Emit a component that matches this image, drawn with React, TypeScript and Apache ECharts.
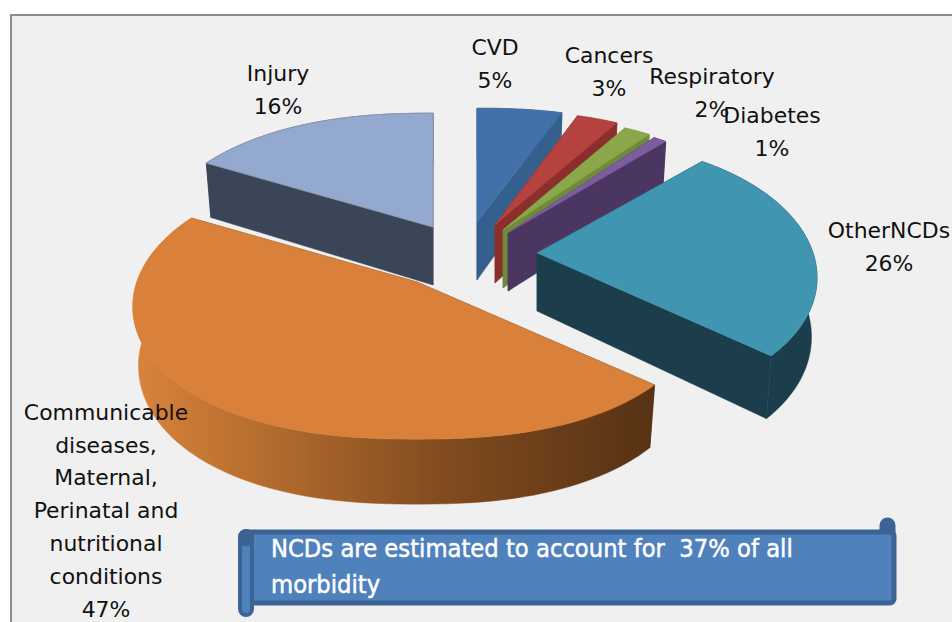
import React, { useEffect, useRef } from "react";
import * as echarts from "echarts";

const categories = [
  "CVD",
  "Cancers",
  "Respiratory",
  "Diabetes",
  "OtherNCDs",
  "Communicable\ndiseases,\nMaternal,\nPerinatal and\nnutritional\nconditions",
  "Injury",
];
// Estimated from the slice boundaries; each rounds to the printed percentage
const shares = [5, 3, 2, 1, 26, 46.6, 16.4];
const calloutLines = ["NCDs are estimated to account for  37% of all", "morbidity"];

// Exploded pie layout, one entry per category
const apexX = [477, 495, 503, 508, 537, 417, 433];
const apexY = [222, 225, 230, 233, 253, 282, 227];
const radiusScale = [1, 0.97, 0.97, 0.97, 1.015, 1.03, 1.035];
const topColors = ["#4171a8", "#b5423f", "#8aa84a", "#7b5da0", "#4095b0", "#d9813a", "#93a9cf"];
const wallColors = ["#355f8c", "#8a2f2c", "#6f8a3b", "#4a3660", "#1c3e4c", "#5a3414", "#3b4558"];
const labelX = [495, 609, 712, 772, 889, 106, 278];
const labelY = [64, 72, 93, 132, 247, 511, 90];
const paintOrder = [0, 1, 2, 3, 6, 4, 5];

const RX = 272;
const RY = 135.5;
const PERSPECTIVE = 0.16;
const ROUNDNESS = 0.85;
const DEPTH = 58;
const LABEL_FONT = '20.5px "DejaVu Sans"';

const total = shares.reduce((a, b) => a + b, 0);
const starts = shares.map((_, i) => shares.slice(0, i).reduce((a, b) => a + b, 0));

function planar(t: number) {
  const sin = Math.sin(t);
  const X = Math.sign(sin) * Math.pow(Math.abs(sin), ROUNDNESS);
  const Y = -Math.cos(t);
  return { X, Y, s: 1 + PERSPECTIVE * Y };
}
function rimTop(i: number, t: number) {
  const { X, Y, s } = planar(t);
  return [apexX[i] + RX * radiusScale[i] * X * s, apexY[i] + RY * Y * s];
}
function rimBottom(i: number, t: number) {
  const { X, Y, s } = planar(t);
  return [
    apexX[i] + RX * radiusScale[i] * 0.98 * X * s,
    apexY[i] + RY * Y * s + DEPTH * (1 + 0.12 * Y),
  ];
}

const renderSlice = (_params: any, api: any) => {
  const value = api.value(0);
  const i = api.value(1);
  const a0 = (starts[i] / total) * Math.PI * 2;
  const a1 = a0 + (value / total) * Math.PI * 2;
  const steps = Math.max(6, Math.round(value * 2));
  const ts: number[] = [];
  for (let k = 0; k <= steps; k++) ts.push(a0 + ((a1 - a0) * k) / steps);
  const apexTop = [apexX[i], apexY[i]];
  const apexBot = [apexX[i], apexY[i] + DEPTH];
  const topRim = ts.map((t) => rimTop(i, t));
  const botRim = ts.map((t) => rimBottom(i, t));
  const wall = wallColors[i];
  const outerFill = categories[i].startsWith("Communicable")
    ? new echarts.graphic.LinearGradient(
        132,
        0,
        653,
        0,
        [
          { offset: 0, color: "#d9843c" },
          { offset: 0.25, color: "#b56d2e" },
          { offset: 0.6, color: "#814b1f" },
          { offset: 1, color: "#573214" },
        ],
        true
      )
    : wall;
  const poly = (points: number[][], fill: any, stroke?: string) => ({
    type: "polygon",
    shape: { points },
    style: { fill, stroke: stroke || fill, lineWidth: stroke ? 1 : 0.5 },
  });
  return {
    type: "group",
    children: [
      poly([apexTop, topRim[0], botRim[0], apexBot], wall),
      poly([apexTop, topRim[steps], botRim[steps], apexBot], wall),
      poly([...topRim, ...botRim.slice().reverse()], outerFill),
      poly([apexTop, ...topRim], topColors[i], categories[i] === "Injury" ? "#8f99ab" : undefined),
    ],
  };
};

const labelElements = categories.map((name, i) => ({
  type: "text",
  x: labelX[i],
  y: labelY[i],
  scaleX: 1.07,
  z: 10,
  style: {
    x: 0,
    y: 0,
    text: `${name}\n${Math.round(shares[i])}%`,
    font: LABEL_FONT,
    fill: "#111",
    align: "center",
    verticalAlign: "middle",
    lineHeight: 32.8,
  },
}));

export default function App() {
  const ref = useRef<HTMLDivElement>(null);
  useEffect(() => {
    const chart = echarts.init(ref.current!, null, { renderer: "svg" });
    chart.setOption({
      animation: false,
      backgroundColor: "#ffffff",
      series: [
        {
          type: "custom",
          coordinateSystem: "none",
          silent: true,
          renderItem: renderSlice,
          data: paintOrder.map((i) => [shares[i], i]),
          z: 2,
        },
      ],
      graphic: {
        elements: [
          {
            type: "rect",
            z: 0,
            shape: { x: 11, y: 15, width: 1000, height: 700 },
            style: { fill: "#f0f0f0", stroke: "#8c8c8c", lineWidth: 2 },
          },
          ...labelElements,
          {
            type: "rect",
            z: 11,
            shape: { x: 881, y: 519, width: 13, height: 30, r: 6.5 },
            style: { fill: "#3b6393", stroke: "#3b6393", lineWidth: 3 },
          },
          {
            type: "rect",
            z: 11,
            shape: { x: 241, y: 532, width: 653, height: 71, r: 4 },
            style: { fill: "#4f81bd", stroke: "#3b6393", lineWidth: 5 },
          },
          {
            type: "rect",
            z: 12,
            shape: { x: 240, y: 531, width: 12, height: 84, r: 6 },
            style: { fill: "#4f81bd", stroke: "#3b6393", lineWidth: 4 },
          },
          {
            type: "rect",
            z: 13,
            shape: { x: 240, y: 531, width: 12, height: 15, r: 4 },
            style: { fill: "#3b6393" },
          },
          ...calloutLines.map((line, k) => ({
            type: "text",
            z: 14,
            x: 271,
            y: 549 + k * 36,
            scaleX: 0.947,
            style: {
              x: 0,
              y: 0,
              text: line,
              font: '24px "DejaVu Sans"',
              fill: "#ffffff",
              stroke: "#ffffff",
              lineWidth: 0.5,
              align: "left",
              verticalAlign: "middle",
            },
          })),
        ],
      },
    });
    return () => chart.dispose();
  }, []);
  return <div ref={ref} style={{ position: "fixed", left: 0, top: 0, width: 952, height: 622 }} />;
}
